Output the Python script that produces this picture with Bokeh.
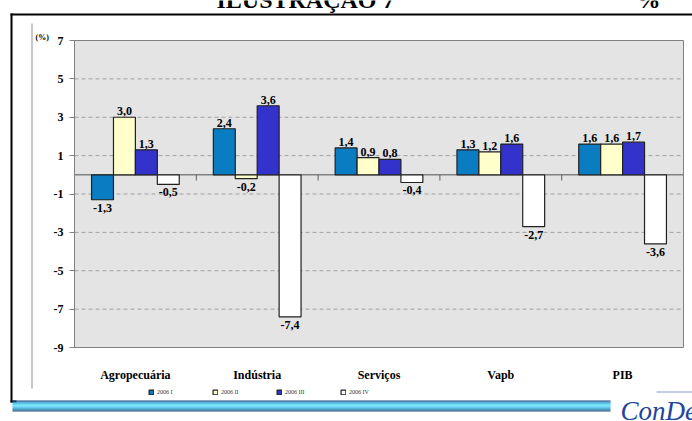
from bokeh.plotting import figure
from bokeh.models import (ColumnDataSource, FixedTicker, Range1d, Label,
                          Legend, LegendItem, LinearAxis)
from bokeh.core.properties import value
from bokeh.embed import file_html
from bokeh.resources import INLINE

# ---- data ----
categories = ["Agropecuária", "Indústria", "Serviços", "Vapb", "PIB"]
series_names = ["2006 I", "2006 II", "2006 III", "2006 IV"]
s1 = [-1.3, 2.4, 1.4, 1.3, 1.6]
s2 = [3.0, -0.2, 0.9, 1.2, 1.6]
s3 = [1.3, 3.6, 0.8, 1.6, 1.7]
s4 = [-0.5, -7.4, -0.4, -2.7, -3.6]
y_ticks = [7, 5, 3, 1, -1, -3, -5, -7, -9]

series = [s1, s2, s3, s4]
colors = ["#0A7DC2", "#FFFFCC", "#3333CC", "#FFFFFF"]
offsets = [-0.27, -0.09, 0.09, 0.27]
bar_w = 0.18
FONT = "Liberation Serif"

# ---- layout geometry (canvas pixels) ----
W, H = 692, 421
PL, PR, PT, PB = 74, 683, 40, 347      # plot-area edges
ymin, ymax = y_ticks[-1], y_ticks[0]
ncat = len(categories)
ux = (PR - PL) / ncat
uy = (PB - PT) / (ymax - ymin)
x_range = Range1d(0 - PL / ux, ncat + (W - PR) / ux)
y_range = Range1d(ymin - (H - PB) / uy, ymax + PT / uy)

p = figure(width=W, height=H, output_backend="svg", toolbar_location=None,
           x_range=x_range, y_range=y_range,
           x_axis_location=None, y_axis_location=None)
p.min_border = 0
p.min_border_left = 0
p.min_border_right = 0
p.min_border_top = 0
p.min_border_bottom = 0
p.outline_line_color = None
p.background_fill_color = "white"
p.border_fill_color = "white"
p.grid.grid_line_color = None
p.extra_x_ranges = {"px": Range1d(0, W)}
p.extra_y_ranges = {"px": Range1d(H, 0)}

# plot area background
p.quad(left=[0], right=[ncat], bottom=[ymin], top=[ymax],
       fill_color="#E4E4E4", line_color="#808080", line_width=1)

# dashed grid
grid_vals = [t for t in y_ticks if t not in (ymin, ymax)]
p.segment(x0=[0] * len(grid_vals), x1=[ncat] * len(grid_vals),
          y0=grid_vals, y1=grid_vals, line_color="#A0A0A0",
          line_dash="4 3", line_width=1)

# zero line
p.segment(x0=[0], x1=[ncat], y0=[0], y1=[0], line_color="#808080", line_width=1.5)

# group boundary ticks on zero line
bounds = list(range(1, ncat))
p.segment(x0=bounds, y0=[0] * len(bounds), x1=bounds, y1=[-0.3] * len(bounds),
          line_color="#606060", line_width=1)

# axes
yax = LinearAxis(fixed_location=0, bounds=(ymin, ymax))
yax.ticker = FixedTicker(ticks=y_ticks)
yax.major_label_overrides = {t: str(t) for t in y_ticks}
yax.axis_line_color = "#808080"
yax.major_tick_line_color = "#808080"
yax.major_tick_out = 5
yax.major_tick_in = 0
yax.minor_tick_line_color = None
yax.major_label_standoff = 6
yax.major_label_text_font = FONT
yax.major_label_text_font_style = "bold"
yax.major_label_text_font_size = "12px"
yax.major_label_text_color = "black"
p.add_layout(yax, "left")

xax = LinearAxis(fixed_location=ymin, bounds=(0, ncat))
xax.ticker = FixedTicker(ticks=[i + 0.5 for i in range(ncat)])
xax.major_label_overrides = {i + 0.5: c for i, c in enumerate(categories)}
xax.axis_line_color = None
xax.major_tick_line_color = None
xax.minor_tick_line_color = None
xax.major_label_standoff = 14
xax.major_label_text_font = FONT
xax.major_label_text_font_style = "bold"
xax.major_label_text_font_size = "12px"
xax.major_label_text_color = "black"
p.add_layout(xax, "below")

# bars + value labels
items = []
for vals, col, off, name in zip(series, colors, offsets, series_names):
    xs = [i + 0.5 + off for i in range(ncat)]
    src = ColumnDataSource(dict(x=xs, top=vals, bottom=[0] * len(vals)))
    r = p.vbar(x="x", top="top", bottom="bottom", width=bar_w, source=src,
               fill_color=col, line_color="#202020", line_width=1.2)
    items.append(LegendItem(label=name, renderers=[r]))
    pos = [(x, v) for x, v in zip(xs, vals) if v >= 0]
    neg = [(x, v) for x, v in zip(xs, vals) if v < 0]
    if pos:
        p.text(x=[a for a, _ in pos], y=[b for _, b in pos],
               text=[f"{b:.1f}".replace(".", ",") for _, b in pos],
               text_align="center", text_baseline="bottom", y_offset=-2,
               text_font=value(FONT), text_font_style="bold",
               text_font_size="12px", text_color="black")
    if neg:
        p.text(x=[a for a, _ in neg], y=[b for _, b in neg],
               text=[f"{b:.1f}".replace(".", ",") for _, b in neg],
               text_align="center", text_baseline="top", y_offset=4,
               text_font=value(FONT), text_font_style="bold",
               text_font_size="12px", text_color="black")

legend = Legend(items=items, orientation="horizontal", location=(148, H - 395),
                glyph_width=6, glyph_height=6, label_text_font_size="6px",
                label_text_font=FONT, label_standoff=3, label_width=50,
                spacing=5, padding=0, margin=0, border_line_color=None,
                background_fill_alpha=0, label_height=6,
                label_text_color="#333333")
p.add_layout(legend)

# ---- decorations (pixel range) ----
def box(l, r, t, b, color):
    p.quad(left=[l], right=[r], top=[t], bottom=[b], fill_color=color,
           line_color=None, x_range_name="px", y_range_name="px")

box(10, 692, 13, 15, "black")
box(10, 12, 13, 402, "black")
box(10, 16, 400, 402, "black")
box(31, 32, 23, 388, "#909090")
grad = ["#1A3F7A", "#1E6FA8", "#1FA6D6", "#29C4EC", "#4AD4F4", "#5ED9F6",
        "#3FCBEE", "#22B3DE", "#1990BE", "#17709C", "#1A4F78"]
for i, c in enumerate(grad):
    box(12, 610, 400 + i, 401 + i, c)
box(656, 692, 391, 392, "#8A98C8")

def lab(x, y, t, size, style, color, align="left"):
    p.add_layout(Label(x=x, y=y, x_range_name="px", y_range_name="px", text=t,
                       text_font=FONT, text_font_style=style,
                       text_font_size=size, text_align=align,
                       text_baseline="alphabetic", text_color=color))

lab(305, -1, "ILUSTRAÇÃO 7", "24px", "bold", "black", "center")
lab(648, -1, "%", "24px", "bold", "black", "center")
lab(35, 37, "(%)", "8px", "bold", "black")
lab(620, 410, "ConDe", "27px", "italic", "#23449B")

open("out.html", "w").write(file_html(p, INLINE))
